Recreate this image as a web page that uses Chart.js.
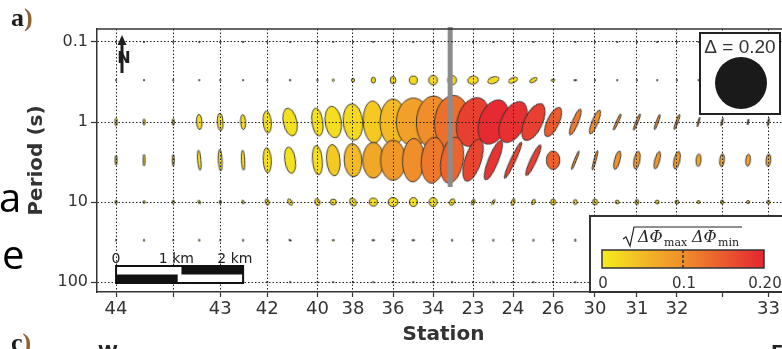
<!DOCTYPE html>
<html>
<head>
<meta charset="utf-8">
<script src="https://cdn.jsdelivr.net/npm/chart.js@4.4.1/dist/chart.umd.min.js"></script>
<style>
  html, body { margin: 0; padding: 0; background: #fff; overflow: hidden; }
  #wrap { position: relative; width: 800px; height: 349px; }
  #wrap canvas { position: absolute; left: 0; top: 0; }
  .txt { position: absolute; white-space: nowrap; line-height: 1; }
</style>
</head>
<body>
<div id="wrap">
  <canvas id="pt" width="800" height="349"></canvas>
  <div class="txt" style="left:11px;top:3px;font:bold 26px 'Liberation Serif';color:#1c1c1c">a<span style="color:#8f6236">)</span></div>
  <div class="txt" style="left:-1px;top:169px;font:40px 'Open Sans';color:#000">a</div>
  <div class="txt" style="left:2px;top:226px;font:40px 'Open Sans';color:#000">e</div>
  <div class="txt" style="left:11px;top:328px;font:bold 26px 'Liberation Serif';color:#1c1c1c">c<span style="color:#8f6236">)</span></div>
  <div class="txt" style="left:98px;top:341px;font:bold 18px 'DejaVu Sans';color:#222">W</div>
  <div class="txt" style="left:771px;top:341px;font:bold 18px 'DejaVu Sans';color:#222">E</div>
</div>
<script>
// station positions along the profile (km), every other one carries a tick
const stationKm = [0, 0.44, 0.90, 1.31, 1.64, 2.00, 2.38, 2.74, 3.17, 3.42, 3.73, 4.05, 4.36, 4.68, 4.99, 5.29, 5.62, 5.94, 6.25, 6.57, 6.88, 7.23, 7.54, 7.89, 8.20, 8.52, 8.83, 9.17, 9.54, 9.95, 10.27];
const tickKm = [0, 0.90, 1.64, 2.38, 3.17, 3.73, 4.36, 4.99, 5.62, 6.25, 6.88, 7.54, 8.20, 8.83, 9.54, 10.27];
const tickLabels = ["44", "", "43", "42", "40", "38", "36", "34", "23", "24", "26", "30", "31", "32", "", "33"];

const periods = [0.1, 0.3, 1, 3, 10, 30, 100];
const yTicks = [0.1, 1, 10, 100];
const yTickLabels = ["0.1", "1", "10", "100"];

// Delta phi max / min (ellipse half axes), one row per period
const phiMax = [
    [0.006, 0.006, 0.006, 0.006, 0.006, 0.006, 0.006, 0.006, 0.006, 0.006, 0.006, 0.006, 0.006, 0.006, 0.006, 0.006, 0.006, 0.006, 0.006, 0.006, 0.006, 0.006, 0.006, 0.006, 0.006, 0.006, 0.006, 0.006, 0.006, 0.006, 0.006],
    [0.006, 0.006, 0.006, 0.006, 0.006, 0.006, 0.006, 0.007, 0.007, 0.009, 0.014, 0.023, 0.028, 0.032, 0.036, 0.036, 0.041, 0.045, 0.036, 0.032, 0.015, 0.013, 0.006, 0.006, 0.006, 0.006, 0.006, 0.006, 0.006, 0.006, 0.006],
    [0.031, 0.025, 0.027, 0.058, 0.067, 0.058, 0.085, 0.108, 0.108, 0.122, 0.141, 0.162, 0.177, 0.185, 0.2, 0.205, 0.192, 0.177, 0.169, 0.154, 0.123, 0.108, 0.1, 0.069, 0.069, 0.062, 0.062, 0.038, 0.031, 0.023, 0.031],
    [0.038, 0.045, 0.045, 0.077, 0.083, 0.077, 0.096, 0.102, 0.113, 0.121, 0.128, 0.138, 0.154, 0.167, 0.177, 0.179, 0.169, 0.162, 0.154, 0.131, 0.071, 0.077, 0.077, 0.073, 0.069, 0.069, 0.069, 0.048, 0.05, 0.046, 0.048],
    [0.015, 0.012, 0.015, 0.015, 0.015, 0.015, 0.023, 0.027, 0.027, 0.023, 0.031, 0.031, 0.038, 0.035, 0.035, 0.027, 0.023, 0.023, 0.027, 0.023, 0.023, 0.019, 0.023, 0.015, 0.019, 0.015, 0.015, 0.012, 0.015, 0.012, 0.015],
    [0.006, 0.008, 0.006, 0.008, 0.006, 0.008, 0.006, 0.012, 0.008, 0.01, 0.01, 0.012, 0.012, 0.012, 0.008, 0.008, 0.008, 0.008, 0.008, 0.008, 0.008, 0.01, 0.006, 0.006, 0.006, 0.006, 0.006, 0.006, 0.006, 0.006, 0.006],
    [0.006, 0.006, 0.006, 0.006, 0.006, 0.006, 0.006, 0.006, 0.006, 0.006, 0.006, 0.006, 0.006, 0.006, 0.006, 0.006, 0.006, 0.006, 0.006, 0.006, 0.006, 0.006, 0.006, 0.006, 0.006, 0.006, 0.006, 0.006, 0.006, 0.006, 0.006]
];
const phiMin = [
    [0.005, 0.005, 0.005, 0.005, 0.005, 0.005, 0.005, 0.005, 0.005, 0.005, 0.005, 0.005, 0.005, 0.005, 0.005, 0.005, 0.005, 0.005, 0.005, 0.005, 0.005, 0.005, 0.005, 0.005, 0.005, 0.005, 0.005, 0.005, 0.005, 0.005, 0.005],
    [0.005, 0.005, 0.005, 0.005, 0.005, 0.005, 0.005, 0.006, 0.006, 0.008, 0.012, 0.016, 0.022, 0.031, 0.034, 0.034, 0.031, 0.025, 0.019, 0.015, 0.008, 0.004, 0.005, 0.005, 0.005, 0.005, 0.005, 0.005, 0.005, 0.005, 0.005],
    [0.010, 0.008, 0.008, 0.021, 0.022, 0.019, 0.031, 0.052, 0.042, 0.062, 0.075, 0.077, 0.1, 0.131, 0.128, 0.135, 0.123, 0.108, 0.092, 0.069, 0.046, 0.023, 0.023, 0.009, 0.009, 0.009, 0.009, 0.006, 0.006, 0.005, 0.006],
    [0.008, 0.008, 0.008, 0.013, 0.015, 0.013, 0.031, 0.041, 0.038, 0.052, 0.068, 0.081, 0.096, 0.083, 0.09, 0.085, 0.062, 0.038, 0.019, 0.023, 0.052, 0.008, 0.009, 0.021, 0.023, 0.019, 0.023, 0.019, 0.018, 0.018, 0.018],
    [0.008, 0.008, 0.008, 0.008, 0.008, 0.008, 0.015, 0.015, 0.019, 0.023, 0.023, 0.031, 0.035, 0.031, 0.031, 0.019, 0.012, 0.008, 0.012, 0.012, 0.019, 0.015, 0.019, 0.014, 0.015, 0.014, 0.015, 0.012, 0.012, 0.012, 0.012],
    [0.005, 0.005, 0.005, 0.005, 0.005, 0.005, 0.005, 0.005, 0.005, 0.005, 0.005, 0.005, 0.005, 0.005, 0.005, 0.005, 0.005, 0.005, 0.005, 0.005, 0.005, 0.005, 0.005, 0.005, 0.005, 0.005, 0.005, 0.005, 0.005, 0.005, 0.005],
    [0.005, 0.005, 0.005, 0.005, 0.005, 0.005, 0.005, 0.005, 0.005, 0.005, 0.005, 0.005, 0.005, 0.005, 0.005, 0.005, 0.005, 0.005, 0.005, 0.005, 0.005, 0.005, 0.005, 0.005, 0.005, 0.005, 0.005, 0.005, 0.005, 0.005, 0.005]
];
// orientation of the major axis, degrees clockwise from vertical
const strike = [
    [0, 0, 0, 0, 0, 0, 0, 0, 0, 0, 0, 0, 0, 0, 0, 0, 0, 0, 0, 0, 0, 0, 0, 0, 0, 0, 0, 0, 0, 0, 0],
    [0, 0, 0, 0, 0, 0, 0, 0, 0, 0, 0, 0, 0, 0, 0, 0, 80, 70, 65, 60, 80, 85, 0, 0, 0, 0, 0, 0, 0, 0, 0],
    [0, 0, 0, -3, -3, -3, -5, -12, -8, -8, -5, -3, 0, 0, 2, 5, 15, 20, 25, 25, 25, 22, 22, 25, 22, 20, 20, 15, 15, 10, 10],
    [0, 0, 0, -5, -3, -3, -3, -8, -5, -5, -3, 0, 0, 2, 5, 10, 18, 22, 25, 25, 0, 22, 15, 15, 10, 15, 12, 5, 5, 5, 5],
    [0, 0, 0, -30, 0, -20, -20, -30, -20, 0, -30, 0, 90, 0, 0, 30, 30, 30, 20, 25, 0, 0, 0, 0, 0, 0, 0, 0, 0, 0, 0],
    [0, 0, 0, 0, 0, 0, 0, -60, 0, 90, 0, 90, 90, 90, 0, 0, 0, 0, 0, 0, 0, 0, 0, 0, 0, 0, 0, 0, 0, 0, 0],
    [0, 0, 0, 0, 0, 0, 0, 0, 0, 0, 0, 0, 0, 0, 0, 0, 0, 0, 0, 0, 0, 0, 0, 0, 0, 0, 0, 0, 0, 0, 0]
];
// sqrt(dPhiMax * dPhiMin) used for the fill colour
const colourVal = [
    [0.01, 0.01, 0.01, 0.01, 0.01, 0.01, 0.01, 0.01, 0.01, 0.01, 0.01, 0.01, 0.01, 0.01, 0.01, 0.01, 0.01, 0.01, 0.01, 0.01, 0.01, 0.01, 0.01, 0.01, 0.01, 0.01, 0.01, 0.01, 0.01, 0.01, 0.01],
    [0.01, 0.01, 0.01, 0.01, 0.01, 0.01, 0.01, 0.01, 0.01, 0.012, 0.015, 0.012, 0.015, 0.018, 0.02, 0.02, 0.018, 0.018, 0.015, 0.015, 0.02, 0.02, 0.01, 0.01, 0.01, 0.01, 0.01, 0.01, 0.01, 0.01, 0.01],
    [0.02, 0.02, 0.02, 0.015, 0.015, 0.015, 0.012, 0.012, 0.012, 0.015, 0.02, 0.035, 0.05, 0.08, 0.1, 0.13, 0.175, 0.195, 0.19, 0.175, 0.15, 0.12, 0.1, 0.1, 0.1, 0.1, 0.1, 0.09, 0.09, 0.09, 0.09],
    [0.02, 0.02, 0.02, 0.02, 0.02, 0.02, 0.012, 0.012, 0.015, 0.035, 0.05, 0.07, 0.09, 0.1, 0.12, 0.14, 0.17, 0.185, 0.17, 0.175, 0.145, 0.1, 0.1, 0.095, 0.09, 0.09, 0.09, 0.07, 0.08, 0.075, 0.08],
    [0.015, 0.015, 0.015, 0.015, 0.015, 0.015, 0.015, 0.015, 0.015, 0.015, 0.015, 0.015, 0.015, 0.015, 0.015, 0.02, 0.02, 0.02, 0.02, 0.02, 0.02, 0.02, 0.02, 0.02, 0.02, 0.02, 0.02, 0.02, 0.02, 0.02, 0.02],
    [0.01, 0.01, 0.01, 0.01, 0.01, 0.01, 0.01, 0.01, 0.01, 0.01, 0.01, 0.01, 0.01, 0.01, 0.01, 0.01, 0.01, 0.01, 0.01, 0.01, 0.01, 0.01, 0.01, 0.01, 0.01, 0.01, 0.01, 0.01, 0.01, 0.01, 0.01],
    [0.01, 0.01, 0.01, 0.01, 0.01, 0.01, 0.01, 0.01, 0.01, 0.01, 0.01, 0.01, 0.01, 0.01, 0.01, 0.01, 0.01, 0.01, 0.01, 0.01, 0.01, 0.01, 0.01, 0.01, 0.01, 0.01, 0.01, 0.01, 0.01, 0.01, 0.01]
];

// grey marker line across the section
const markerKm = 5.26;
const markerPeriods = [0.065, 6.5];

// colour scale 0 .. 0.20
const cmapStops = [0, 0.05, 0.1, 0.15, 0.2];
const cmapColours = ["#f6ec1c", "#f3ba25", "#ef8e2b", "#ea5b2d", "#e52532"];

const PX_PER_UNIT = 130; // 0.20 -> 26 px radius, same as the key circle

function hex(c) {
    return [1, 3, 5].map((i) => parseInt(c.substr(i, 2), 16));
}

function cmap(v) {
    const t = Math.max(0, Math.min(v, 0.2));
    let i = 0;
    while (i < cmapStops.length - 2 && t > cmapStops[i + 1]) i++;
    const f = (t - cmapStops[i]) / (cmapStops[i + 1] - cmapStops[i]);
    const a = hex(cmapColours[i]);
    const b = hex(cmapColours[i + 1]);
    return "rgb(" + a.map((c, k) => Math.round(c + (b[k] - c) * f)).join(",") + ")";
}

// one little canvas per ellipse, used as point style (rotation done by Chart.js)
function makeEllipse(major, minor, fill) {
    const ra = Math.max(major * PX_PER_UNIT, 0.6);
    const rb = Math.max(minor * PX_PER_UNIT, 0.6);
    const c = document.createElement("canvas");
    c.width = Math.ceil(rb * 2 + 4);
    c.height = Math.ceil(ra * 2 + 4);
    const g = c.getContext("2d");
    g.beginPath();
    g.ellipse(c.width / 2, c.height / 2, rb, ra, 0, 0, Math.PI * 2);
    g.fillStyle = fill;
    g.fill();
    g.lineWidth = 0.9;
    g.strokeStyle = "#2b2b2b";
    g.stroke();
    return c;
}

const images = periods.map((p, r) =>
    stationKm.map((s, i) => makeEllipse(phiMax[r][i], phiMin[r][i], cmap(colourVal[r][i])))
);

const datasets = periods.map((p, r) => ({
    data: stationKm.map((s) => ({ x: s, y: p })),
    pointStyle: (ctx) => images[r][ctx.dataIndex],
    pointRotation: strike[r],
    pointRadius: 3,
    order: periods.length - r,
}));

datasets.push({
    type: "line",
    data: markerPeriods.map((p) => ({ x: markerKm, y: p })),
    borderColor: "#8c8c8c",
    borderWidth: 5,
    pointRadius: 0,
    clip: false,
    order: 0,
});

// legends, north arrow, scale bar
const extras = {
    id: "extras",
    afterDraw(chart) {
        const { ctx, chartArea: area, scales } = chart;
        const x = scales.x;
        ctx.save();

        // top frame
        ctx.strokeStyle = "#333";
        ctx.lineWidth = 1.5;
        ctx.beginPath();
        ctx.moveTo(area.left, area.top);
        ctx.lineTo(area.right, area.top);
        ctx.stroke();

        // north arrow
        ctx.fillStyle = "#1e1e1e";
        ctx.fillRect(120.5, 42, 3, 31);
        ctx.beginPath();
        ctx.moveTo(122, 35);
        ctx.lineTo(126.5, 45);
        ctx.lineTo(117.5, 45);
        ctx.closePath();
        ctx.fill();
        ctx.font = "bold 16px 'DejaVu Sans'";
        ctx.textAlign = "center";
        ctx.fillText("N", 124, 63);

        // scale bar 0 - 2 km
        const x0 = x.getPixelForValue(0);
        const x2 = x.getPixelForValue(2);
        const xa = x.getPixelForValue(0.97);
        const xb = x.getPixelForValue(1.03);
        ctx.fillStyle = "#fff";
        ctx.fillRect(x0, 266, x2 - x0, 17);
        ctx.fillStyle = "#111";
        ctx.fillRect(xb, 266, x2 - xb, 8.5);
        ctx.fillRect(x0, 274.5, xa - x0, 8.5);
        ctx.strokeStyle = "#111";
        ctx.lineWidth = 2;
        ctx.strokeRect(x0, 266, x2 - x0, 17);
        ctx.font = "14px 'DejaVu Sans'";
        ctx.fillStyle = "#222";
        ctx.textAlign = "center";
        ctx.fillText("0", x0, 263);
        ctx.fillText("1 km", x.getPixelForValue(0.95), 263);
        ctx.fillText("2 km", x.getPixelForValue(1.87), 263);

        // reference circle
        ctx.fillStyle = "#fff";
        ctx.fillRect(700, 33, 80, 81);
        ctx.strokeStyle = "#222";
        ctx.lineWidth = 2;
        ctx.strokeRect(700, 33, 80, 81);
        ctx.fillStyle = "#333";
        ctx.font = "19px 'Liberation Sans'";
        ctx.fillText("\u0394 = 0.20", 740, 53);
        ctx.fillStyle = "#1a1a1a";
        ctx.beginPath();
        ctx.arc(741, 83, 0.2 * PX_PER_UNIT, 0, Math.PI * 2);
        ctx.fill();

        // colour bar
        ctx.fillStyle = "#fff";
        ctx.fillRect(590, 216, 220, 76);
        ctx.strokeStyle = "#333";
        ctx.strokeRect(590, 216, 220, 76);
        const gx0 = 602, gx1 = 764;
        const grad = ctx.createLinearGradient(gx0, 0, gx1, 0);
        cmapStops.forEach((s, i) => grad.addColorStop(s / 0.2, cmapColours[i]));
        ctx.fillStyle = grad;
        ctx.fillRect(gx0, 250, gx1 - gx0, 18);
        ctx.lineWidth = 1.5;
        ctx.strokeRect(gx0, 250, gx1 - gx0, 18);
        ctx.setLineDash([3, 2]);
        ctx.beginPath();
        ctx.moveTo(683, 250);
        ctx.lineTo(683, 268);
        ctx.stroke();
        ctx.setLineDash([]);
        ctx.fillStyle = "#333";
        ctx.font = "15px 'DejaVu Sans'";
        ctx.fillText("0", 603, 288);
        ctx.fillText("0.1", 684, 288);
        ctx.fillText("0.20", 765, 288);

        // sqrt(dPhi_max dPhi_min)
        ctx.strokeStyle = "#222";
        ctx.lineWidth = 1.2;
        ctx.beginPath();
        ctx.moveTo(623, 239);
        ctx.lineTo(626, 237);
        ctx.lineTo(630, 246);
        ctx.lineTo(634, 227);
        ctx.lineTo(742, 227);
        ctx.stroke();
        ctx.fillStyle = "#222";
        ctx.textAlign = "left";
        ctx.font = "italic 16px 'DejaVu Serif'";
        ctx.fillText("\u0394\u03A6", 638, 242);
        ctx.fillText("\u0394\u03A6", 692, 242);
        ctx.font = "11px 'DejaVu Serif'";
        ctx.fillText("max", 664, 246);
        ctx.fillText("min", 718, 246);

        ctx.restore();
    },
};

// grid drawn over the ellipses; the axis line has to follow it (z 2) so its position is known
const gridStyle = { z: 1, color: "#222", lineWidth: 1, tickLength: 5, tickColor: "#333", tickWidth: 1.2 };
const borderStyle = { z: 2, color: "#333", width: 1.5, dash: [1.5, 2] };

new Chart(document.getElementById("pt"), {
    type: "scatter",
    data: { datasets: datasets },
    options: {
        responsive: false,
        devicePixelRatio: 1,
        animation: false,
        events: [],
        layout: { padding: { left: 0, right: 10, top: 29, bottom: 0 } },
        plugins: { legend: { display: false }, tooltip: { enabled: false } },
        scales: {
            x: {
                type: "linear",
                min: -0.3,
                max: 10.61,
                afterFit: (s) => { s.height = 57; },
                afterBuildTicks: (s) => { s.ticks = tickKm.map((v) => ({ value: v })); },
                ticks: {
                    callback: (v, i) => tickLabels[i],
                    autoSkip: false,
                    maxRotation: 0,
                    padding: 2,
                    color: "#333",
                    font: { family: "DejaVu Sans", size: 18 },
                },
                grid: gridStyle,
                border: borderStyle,
                title: {
                    display: true,
                    text: "Station",
                    color: "#333",
                    font: { family: "DejaVu Sans", size: 20, weight: "bold" },
                    padding: { top: 0, bottom: 2 },
                },
            },
            y: {
                type: "logarithmic",
                reverse: true,
                min: 0.0688,
                max: 133,
                afterFit: (s) => { s.width = 97; },
                afterBuildTicks: (s) => { s.ticks = yTicks.map((v) => ({ value: v })); },
                ticks: {
                    callback: (v, i) => yTickLabels[i],
                    autoSkip: false,
                    padding: 3,
                    color: "#333",
                    font: { family: "DejaVu Sans", size: 16 },
                },
                grid: Object.assign({}, gridStyle, { tickLength: 6 }),
                border: borderStyle,
                title: {
                    display: true,
                    text: "Period (s)",
                    color: "#333",
                    font: { family: "DejaVu Sans", size: 20, weight: "bold" },
                    padding: { top: 25, bottom: 0 },
                },
            },
        },
    },
    plugins: [extras],
});
</script>
</body>
</html>
